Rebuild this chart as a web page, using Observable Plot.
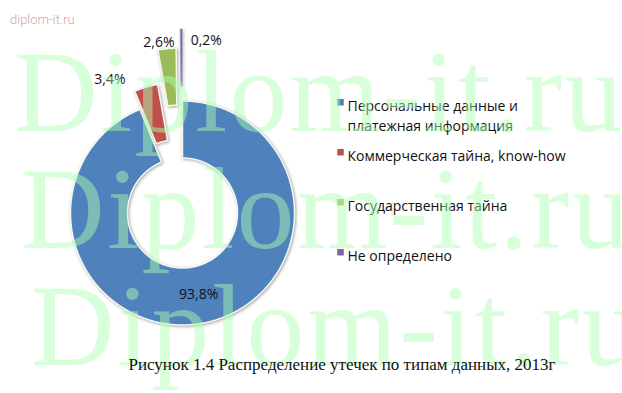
<!DOCTYPE html>
<html><head><meta charset="utf-8">
<script src="https://cdn.jsdelivr.net/npm/d3@7"></script>
<script src="https://cdn.jsdelivr.net/npm/@observablehq/plot@0.6"></script>
<style>
html,body{margin:0;padding:0;background:#fff;}
#wrap{position:relative;width:622px;height:393px;overflow:hidden;}
#chart svg{display:block;}
#chart g[aria-label="line"]{filter:drop-shadow(1px 1.5px 1.5px rgba(0,0,0,0.35));}
#wm{position:absolute;left:0;top:0;pointer-events:none;}
#caption{position:absolute;left:0;top:340px;width:622px;box-sizing:border-box;padding-left:62px;padding-top:15px;text-align:center;font:17px "Liberation Serif",serif;line-height:20px;color:#111;}
</style></head>
<body>
<div id="wrap">
  <div id="chart"></div>
  <svg id="wm" width="622" height="393">
    <text x="10" y="24" style="font:300 13px Roboto,sans-serif;fill:#d9a3a3">diplom-it.ru</text>
    <g style="font:116px 'Liberation Serif',serif;letter-spacing:2.3px;fill:rgb(172,255,176);opacity:0.48">
      <text x="14" y="131">Diplom-it.ru</text>
      <text x="21" y="248">Diplom-it.ru</text>
      <text x="31" y="365">Diplom-it.ru</text>
    </g>
  </svg>
  <div id="caption">Рисунок 1.4 Распределение утечек по типам данных, 2013г</div>
</div>
<script>
// ---- data ----
const categories = ["Персональные данные и платежная информация", "Коммерческая тайна, know-how", "Государственная тайна", "Не определено"];
const legendLabels = ["Персональные данные и\nплатежная информация", "Коммерческая тайна, know-how", "Государственная тайна", "Не определено"];
const shares = [93.8, 3.4, 2.6, 0.2];
const valueLabels = ["93,8%", "3,4%", "2,6%", "0,2%"];
const colors = ["#4F81BD", "#C0504D", "#9BBB59", "#8064A2"];

// ---- layout ----
const W = 622, H = 340;
const cx = 182, cy = 212.5, rOuter = 112, rInner = 55;
const explode = [0, 19, 53, 72];
const labelOffset = [[0, 0], [-36, -8], [-8, -6.5], [25, 12]];
const legendX = 340, legendY = 101.7, legendStep = 50;

const arcs = d3.pie().sort(null).value(d => d.value)(categories.map((name, i) => ({name, value: shares[i], i})));

const pts = [];
const labels = [];
arcs.forEach(a => {
  const i = a.data.i;
  const mid = (a.startAngle + a.endAngle) / 2;
  const ox = cx + explode[i] * Math.sin(mid), oy = cy - explode[i] * Math.cos(mid);
  const n = Math.max(2, Math.ceil((a.endAngle - a.startAngle) / 0.01));
  for (let k = 0; k <= n; k++) {
    const t = a.startAngle + (a.endAngle - a.startAngle) * k / n;
    pts.push({name: a.data.name, i, x: ox + rOuter * Math.sin(t), y: oy - rOuter * Math.cos(t)});
  }
  for (let k = n; k >= 0; k--) {
    const t = a.startAngle + (a.endAngle - a.startAngle) * k / n;
    pts.push({name: a.data.name, i, x: ox + rInner * Math.sin(t), y: oy - rInner * Math.cos(t)});
  }
  const r = i === 0 ? (rOuter + rInner) / 2 : rOuter;
  labels.push({text: valueLabels[i], x: ox + r * Math.sin(mid) + labelOffset[i][0], y: oy - r * Math.cos(mid) + labelOffset[i][1]});
});

const legend = categories.map((name, i) => ({name, label: legendLabels[i], x: legendX, y: legendY + legendStep * i}));

const plot = Plot.plot({
  width: W, height: H, margin: 0,
  x: {type: "linear", domain: [0, W], range: [0, W], axis: null},
  y: {type: "linear", domain: [0, H], range: [0, H], axis: null},
  color: {domain: categories, range: colors},
  style: {background: "transparent", fontFamily: "'Open Sans', sans-serif"},
  marks: [
    Plot.line(pts.filter(d => d.i < 3), {x: "x", y: "y", z: "name", fill: "name", stroke: "#f4f8f0", strokeWidth: 1.5, curve: "linear-closed"}),
    Plot.line(pts.filter(d => d.i === 3), {x: "x", y: "y", z: "name", fill: "name", stroke: "name", strokeWidth: 0.6, curve: "linear-closed"}),
    Plot.text(labels, {x: "x", y: "y", text: "text", fontSize: 14, fill: "#111"}),
    Plot.dot(legend, {x: "x", y: "y", symbol: "square", r: 3.7, fill: "name"}),
    Plot.text(legend, {x: d => d.x + 7, y: "y", text: "label", textAnchor: "start", lineAnchor: "top", dy: -5.5, lineHeight: 1.43, fontSize: 14, fill: "#111"})
  ]
});
document.getElementById("chart").appendChild(plot);
</script>
</body></html>
